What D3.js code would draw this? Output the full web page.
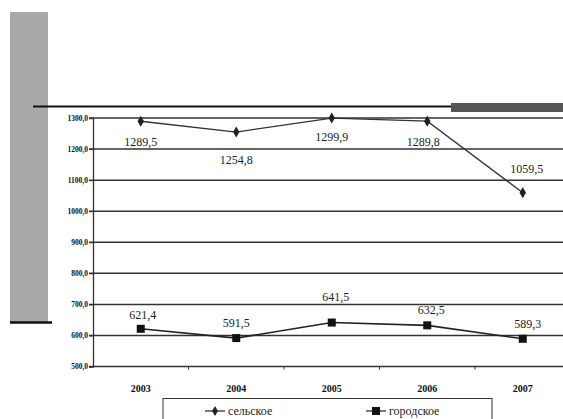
<!DOCTYPE html>
<html><head><meta charset="utf-8">
<script src="https://cdn.jsdelivr.net/npm/d3@7"></script>
<style>body{margin:0;background:#fff}svg{display:block}text{font-family:'Liberation Serif','Times New Roman','DejaVu Serif',serif}</style>
</head><body>
<svg id="c" width="563" height="419"></svg>
<script>
const years = ["2003","2004","2005","2006","2007"];
const rural = [1289.5, 1254.8, 1299.9, 1289.8, 1059.5];
const urban = [621.4, 591.5, 641.5, 632.5, 589.3];
const yTicks = [500,600,700,800,900,1000,1100,1200,1300];
const seriesNames = ["сельское","городское"];

const svg = d3.select("#c");
const fmt = v => v.toFixed(1).replace(".", ",");
const FF = "'Liberation Serif','Times New Roman','DejaVu Serif',serif";

const x = d3.scaleBand().domain(years).range([93, 570.5]);
const y = d3.scaleLinear().domain([500, 1300]).range([366.5, 118]);

// decorative scan elements
svg.append("rect").attr("x",10).attr("y",12).attr("width",38).attr("height",310).attr("fill","#a9a9a9");
svg.append("line").attr("x1",10).attr("x2",52).attr("y1",322.5).attr("y2",322.5).attr("stroke","#111").attr("stroke-width",2.5);
svg.append("line").attr("x1",33).attr("x2",563).attr("y1",106.5).attr("y2",106.5).attr("stroke","#111").attr("stroke-width",1.8);
svg.append("rect").attr("x",451).attr("y",103).attr("width",112).attr("height",9).attr("fill","#555");

// gridlines
svg.append("g").selectAll("line").data(yTicks).join("line")
  .attr("x1",89).attr("x2",563).attr("y1",d=>y(d)).attr("y2",d=>y(d))
  .attr("stroke","#333").attr("stroke-width",1.5);

// y axis
const ya = svg.append("g").attr("transform","translate(93,0)")
  .call(d3.axisLeft(y).tickValues(yTicks).tickSize(4).tickFormat(fmt));
ya.select(".domain").attr("stroke","#333").attr("stroke-width",1.3);
ya.selectAll(".tick line").attr("stroke","#333");
ya.selectAll("text").style("font-family",FF).attr("font-weight","bold")
  .attr("font-size",7.5).attr("fill","#111").attr("x",-5);

// x axis
const xa = svg.append("g").attr("transform",`translate(0,${y(500)})`)
  .call(d3.axisBottom(x).tickSize(0).tickPadding(18));
xa.select(".domain").remove();
xa.selectAll("text").style("font-family",FF).attr("font-weight","bold")
  .attr("font-size",10).attr("fill","#111");
svg.append("g").selectAll("line").data(years.slice(1)).join("line")
  .attr("x1",d=>x(d)).attr("x2",d=>x(d)).attr("y1",y(500)).attr("y2",y(500)+3)
  .attr("stroke","#333");

const cx = d => x(d) + x.bandwidth()/2;
const line = d3.line().x((d,i)=>cx(years[i])).y(d=>y(d));

svg.append("path").datum(rural).attr("d",line).attr("fill","none").attr("stroke","#333").attr("stroke-width",1.3);
svg.append("path").datum(urban).attr("d",line).attr("fill","none").attr("stroke","#222").attr("stroke-width",1.6);

svg.append("g").selectAll("path").data(rural).join("path")
  .attr("d", d3.symbol(d3.symbolDiamond, 36))
  .attr("transform",(d,i)=>`translate(${cx(years[i])},${y(d)})`).attr("fill","#222");
svg.append("g").selectAll("rect").data(urban).join("rect")
  .attr("x",(d,i)=>cx(years[i])-4).attr("y",d=>y(d)-4).attr("width",8).attr("height",8).attr("fill","#111");

// data labels
const rDx = [0, 0, 0, -4, 4];
const rDy = [25, 32, 23, 25, -20];
svg.append("g").selectAll("text").data(rural).join("text")
  .attr("x",(d,i)=>cx(years[i])+rDx[i]).attr("y",(d,i)=>y(d)+rDy[i])
  .attr("text-anchor","middle").style("font-family",FF).attr("font-size",12)
  .attr("fill","#222").text(fmt);
const uDx = [2, 0, 4, 4, 5];
const uDy = [-10, -11, -22, -11, -11];
svg.append("g").selectAll("text").data(urban).join("text")
  .attr("x",(d,i)=>cx(years[i])+uDx[i]).attr("y",(d,i)=>y(d)+uDy[i])
  .attr("text-anchor","middle").style("font-family",FF).attr("font-size",12)
  .attr("fill","#222").text(fmt);

// legend
svg.append("rect").attr("x",163).attr("y",398.5).attr("width",329).attr("height",30)
  .attr("fill","none").attr("stroke","#333").attr("stroke-width",1);
const lg = svg.append("g");
[0,1].forEach(k=>{
  const lx = k===0 ? 205 : 366;
  lg.append("line").attr("x1",lx).attr("x2",lx+20).attr("y1",411).attr("y2",411).attr("stroke","#333").attr("stroke-width",1.3);
  if(k===0) lg.append("path").attr("d",d3.symbol(d3.symbolDiamond,30)).attr("transform",`translate(${lx+10},411)`).attr("fill","#222");
  else lg.append("rect").attr("x",lx+6).attr("y",407).attr("width",8).attr("height",8).attr("fill","#111");
  lg.append("text").attr("x",lx+23).attr("y",415).style("font-family",FF).attr("font-size",12)
    .attr("fill","#222").text(seriesNames[k]);
});
</script>
</body></html>
